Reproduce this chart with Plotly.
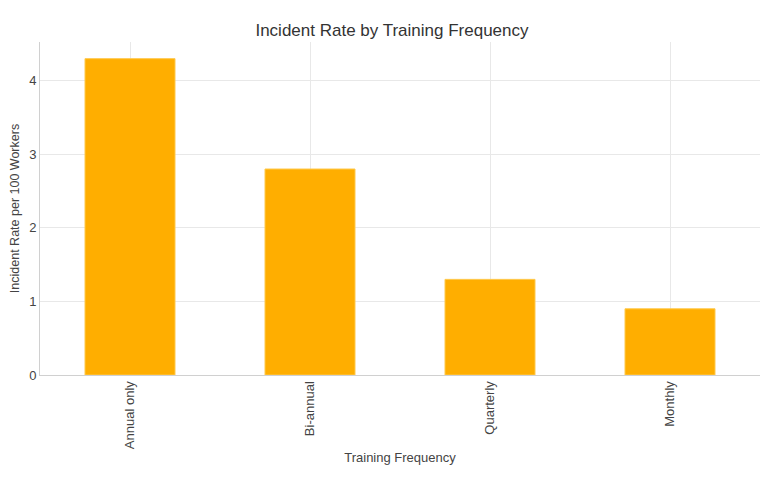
import plotly.graph_objects as go

frequencies = ["Annual only", "Bi-annual", "Quarterly", "Monthly"]
incident_rates = [4.3, 2.8, 1.3, 0.9]

fig = go.Figure(
    go.Bar(
        x=frequencies,
        y=incident_rates,
        marker=dict(color="#FFAE00", line=dict(color="#FFC94D", width=1)),
    )
)

fig.update_layout(
    template="plotly_white",
    width=768,
    height=481,
    title=dict(text="Incident Rate by Training Frequency", x=0.5, y=0.954,
               yanchor="middle", font=dict(size=17, color="#333")),
    font=dict(family="Liberation Sans, Arial, sans-serif", size=13, color="#444"),
    margin=dict(l=32, r=16, t=34, b=114),
    bargap=0.5,
    showlegend=False,
)
fig.update_xaxes(
    title=dict(text="Training Frequency", font=dict(size=13), standoff=4),
    tickangle=-90,
    showgrid=True,
    gridcolor="#e8e8e8",
    showline=True,
    linecolor="#d0d0d0",
    automargin=False,
)
fig.update_yaxes(
    title=dict(text="Incident Rate per 100 Workers", font=dict(size=12.5)),
    showgrid=True,
    gridcolor="#e8e8e8",
    showline=True,
    linecolor="#d0d0d0",
    zeroline=False,
    dtick=1,
    automargin=False,
)

fig.write_html("out.html")
